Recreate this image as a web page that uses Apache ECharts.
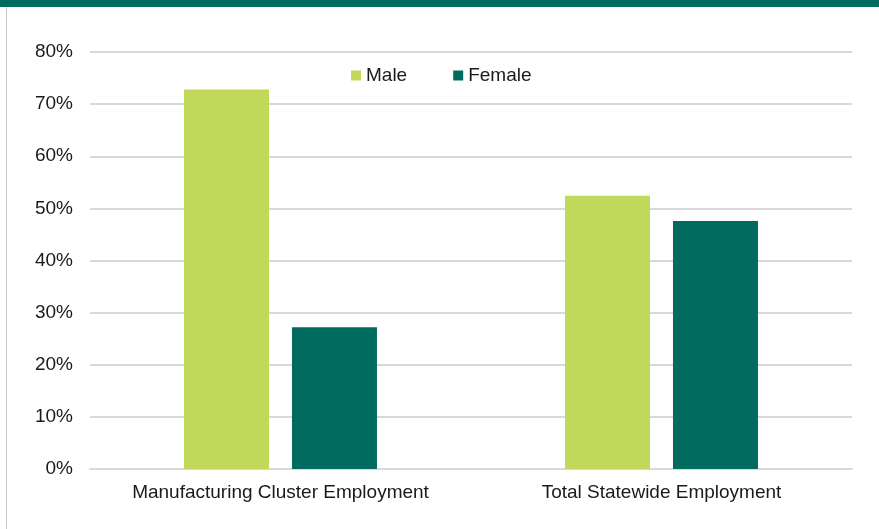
<!DOCTYPE html>
<html><head><meta charset="utf-8">
<script src="https://cdn.jsdelivr.net/npm/echarts@6/dist/echarts.min.js"></script>
<style>html,body{margin:0;padding:0;background:#fff}#c{width:879px;height:529px}</style>
</head><body><div id="c"></div>
<script>
const categories = ["Manufacturing Cluster Employment", "Total Statewide Employment"];
const maleValues = [72.8, 52.4];
const femaleValues = [27.2, 47.6];
const seriesNames = ["Male", "Female"];

const chart = echarts.init(document.getElementById('c'), null, {renderer: 'canvas'});
const font = "'Liberation Sans', Arial, sans-serif";
chart.setOption({
  animation: false,
  backgroundColor: '#fff',
  graphic: [
    {type: 'rect', left: 0, top: 0, shape: {width: 879, height: 7}, style: {fill: '#006B5E'}},
    {type: 'rect', left: 6, top: 7, shape: {width: 1, height: 522}, style: {fill: '#c8c8c8'}}
  ],
  legend: {
    data: seriesNames,
    left: 346, top: 61,
    itemWidth: 10, itemHeight: 10, itemGap: 46,
    icon: 'rect',
    textStyle: {fontFamily: font, fontSize: 19, color: '#1a1a1a'}
  },
  grid: {left: 90, right: 27, top: 52, bottom: 60, containLabel: false},
  xAxis: {
    type: 'category', data: categories,
    axisLine: {lineStyle: {color: '#d9d9d9', width: 2}},
    axisTick: {show: false},
    axisLabel: {interval: 0, fontFamily: font, fontSize: 19, color: '#1a1a1a', margin: 14}
  },
  yAxis: {
    type: 'value', min: 0, max: 80, interval: 10,
    axisLabel: {formatter: '{value}%', fontFamily: font, fontSize: 19, color: '#1a1a1a', margin: 17},
    splitLine: {lineStyle: {color: '#d9d9d9', width: 2}},
    axisLine: {show: false}, axisTick: {show: false}
  },
  series: [
    {name: seriesNames[0], type: 'bar', data: maleValues, barWidth: 85, barGap: '27%', itemStyle: {color: '#C0D95A'}},
    {name: seriesNames[1], type: 'bar', data: femaleValues, barWidth: 85, itemStyle: {color: '#006B5E'}}
  ]
});
</script></body></html>
